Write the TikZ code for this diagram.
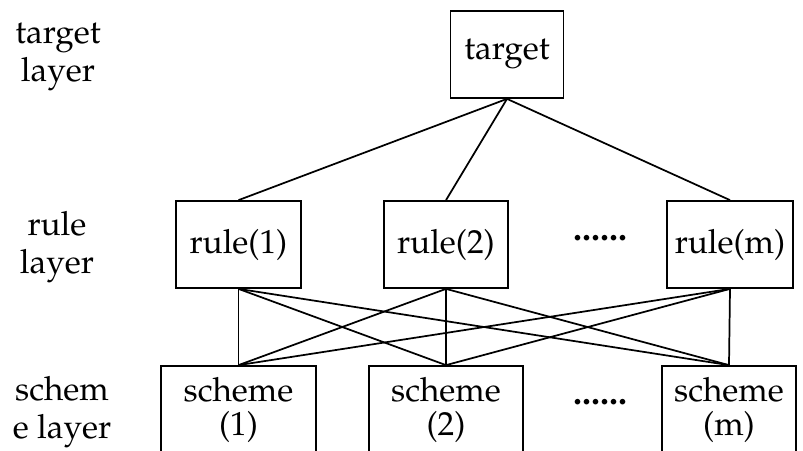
\documentclass[tikz,border=0pt]{standalone}
\usepackage[T1]{fontenc}
\renewcommand{\rmdefault}{ppl}
\begin{document}
\begin{tikzpicture}[x=0.75pt,y=-0.75pt,
  every node/.style={font=\fontsize{25}{28.5}\selectfont, align=center, inner sep=0pt},
  tight/.style={font=\fontsize{25}{25}\selectfont},
  box/.style={draw, line width=1.3pt, minimum width=#1*0.75pt},
  dots/.style={font=\fontsize{27}{28}\selectfont\bfseries},
  link/.style={line width=1.3pt}]
\useasboundingbox (0,0) rectangle (803,450);
\begin{scope}
\clip (0,0) rectangle (803,450);
% layer captions
\node (lt) at (58,57) {target\\layer};
\node (lr) at (57,247) {rule\\layer};
\node (ls) at (62,412) {schem\\e layer};
% target
\node[box=113, minimum height=87*0.75pt] (t) at (507,54.5) {target};
% rules
\node[box=125, minimum height=87*0.75pt] (r1) at (238.5,244.5) {rule(1)};
\node[box=124, minimum height=87*0.75pt] (r2) at (446,244.5) {rule(2)};
\node[box=126, minimum height=87*0.75pt] (rm) at (730,244.5) {rule(m)};
\node[dots] (d1) at (600,238) {......};
% schemes (lower edge runs past the page)
\node[box=155, minimum height=88*0.75pt, tight] (s1) at (238.5,410) {scheme\\(1)};
\node[box=154, minimum height=88*0.75pt, tight] (s2) at (446,410) {scheme\\(2)};
\node[box=134, minimum height=88*0.75pt, tight] (sm) at (729,410) {scheme\\(m)};
\node[dots] (d2) at (600,402) {......};
% connections
\foreach \r in {r1,r2,rm} \draw[link] (t.south) -- (\r.north);
\foreach \r in {r1,r2,rm}
  \foreach \s in {s1,s2,sm}
    \draw[link] (\r.south) -- (\s.north);
\end{scope}
\end{tikzpicture}
\end{document}
